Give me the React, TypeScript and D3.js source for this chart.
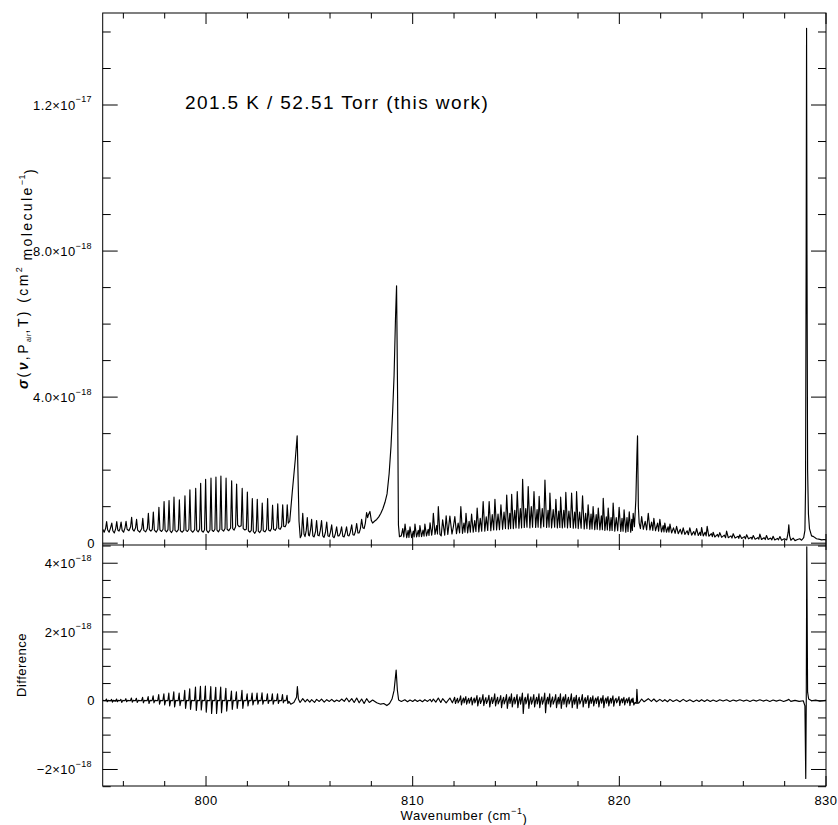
import React from "react";
import * as d3 from "d3";

// plot geometry (px)
const W = 838, H = 825;
const X0 = 102.7, X1 = 826;
const TOP = 13, MID = 545, BOT = 786;

// cross section, 1e-18 cm^2 molecule^-1, [wavenumber, sigma]
const combBand: [number, number][] = [
  [795.00,0.38],[795.07,0.30],[795.14,0.40],[795.19,0.59],[795.24,0.36],[795.31,0.30],[795.38,0.42],[795.44,0.55],
  [795.49,0.34],[795.56,0.28],[795.63,0.40],[795.68,0.59],[795.73,0.36],[795.79,0.33],[795.84,0.41],[795.89,0.58],
  [795.94,0.35],[796.01,0.30],[796.08,0.42],[796.13,0.60],[796.18,0.38],[796.27,0.34],[796.35,0.45],[796.40,0.71],
  [796.45,0.38],[796.52,0.33],[796.59,0.42],[796.64,0.65],[796.69,0.36],[796.79,0.30],[796.89,0.40],[796.94,0.68],
  [796.99,0.35],[797.08,0.31],[797.16,0.40],[797.21,0.82],[797.26,0.37],[797.33,0.33],[797.40,0.38],[797.45,0.85],
  [797.50,0.36],[797.59,0.30],[797.67,0.38],[797.72,0.98],[797.77,0.36],[797.85,0.32],[797.92,0.38],[797.97,1.14],
  [798.02,0.35],[798.09,0.31],[798.16,0.37],[798.21,1.17],[798.26,0.34],[798.33,0.29],[798.40,0.36],[798.45,1.26],
  [798.50,0.35],[798.58,0.31],[798.66,0.37],[798.71,1.19],[798.76,0.34],[798.85,0.30],[798.93,0.36],[798.98,1.30],
  [799.03,0.35],[799.10,0.32],[799.17,0.38],[799.22,1.46],[799.27,0.35],[799.36,0.30],[799.45,0.37],[799.50,1.50],
  [799.55,0.35],[799.62,0.31],[799.69,0.38],[799.74,1.64],[799.79,0.34],[799.86,0.30],[799.93,0.37],[799.98,1.75],
  [800.03,0.35],[800.11,0.29],[800.19,0.36],[800.24,1.78],[800.29,0.36],[800.36,0.32],[800.43,0.38],[800.48,1.81],
  [800.53,0.36],[800.60,0.31],[800.67,0.38],[800.72,1.84],[800.77,0.37],[800.85,0.33],[800.92,0.40],[800.97,1.78],
  [801.02,0.38],[801.10,0.34],[801.19,0.42],[801.24,1.71],[801.29,0.40],[801.36,0.36],[801.43,0.45],[801.48,1.62],
  [801.53,0.50],[801.61,0.45],[801.70,0.48],[801.75,1.50],[801.80,0.40],[801.88,0.36],[801.95,0.38],[802.00,1.40],
  [802.05,0.34],[802.12,0.30],[802.19,0.35],[802.24,1.22],[802.29,0.32],[802.36,0.27],[802.43,0.34],[802.48,1.20],
  [802.53,0.33],[802.60,0.29],[802.67,0.36],[802.72,1.10],[802.77,0.34],[802.85,0.31],[802.93,0.38],[802.98,1.22],
  [803.03,0.36],[803.10,0.33],[803.17,0.40],[803.22,1.04],[803.27,0.38],[803.35,0.35],[803.42,0.42],[803.47,1.08],
  [803.52,0.40],[803.59,0.38],[803.66,0.46],[803.71,1.05],[803.76,0.46],[803.83,0.45],[803.88,0.52],[803.93,1.05],
  [803.98,0.55],[804.05,0.60],[804.17,1.38],[804.32,2.30],[804.41,2.94],[804.50,0.60],[804.56,0.15],
];

const midBand: [number, number][] = [
  [804.62,0.22],[804.68,0.82],[804.74,0.25],[804.79,0.18],[804.85,0.35],[804.90,0.70],[804.96,0.22],[805.00,0.20],
  [805.06,0.38],[805.11,0.65],[805.17,0.20],[805.23,0.17],[805.30,0.32],[805.35,0.62],[805.41,0.22],[805.47,0.20],
  [805.53,0.35],[805.59,0.62],[805.65,0.20],[805.71,0.16],[805.78,0.30],[805.84,0.58],[805.90,0.20],[805.96,0.18],
  [806.02,0.30],[806.08,0.50],[806.14,0.18],[806.20,0.15],[806.26,0.26],[806.32,0.45],[806.38,0.20],[806.44,0.20],
  [806.50,0.28],[806.56,0.45],[806.62,0.19],[806.68,0.17],[806.74,0.28],[806.80,0.45],[806.86,0.21],[806.92,0.20],
  [806.98,0.30],[807.05,0.50],[807.11,0.23],[807.17,0.22],[807.23,0.32],[807.29,0.54],[807.35,0.28],[807.41,0.28],
  [807.47,0.40],[807.53,0.65],[807.59,0.42],[807.65,0.40],[807.71,0.55],[807.77,0.84],[807.82,0.70],[807.86,0.78],
  [807.93,0.87],[808.00,0.62],[808.06,0.55],[808.15,0.60],[808.26,0.65],[808.36,0.72],[808.46,0.82],[808.56,0.95],
  [808.66,1.12],[808.76,1.35],[808.86,1.90],[808.95,2.65],[809.03,3.60],[809.10,4.60],[809.17,6.20],[809.22,7.05],
  [809.27,4.00],
];

const postQBand: [number, number][] = [
  [809.31,0.50],[809.36,0.18],[809.45,0.20],[809.52,0.40],[809.57,0.17],[809.63,0.52],[809.71,0.15],[809.78,0.35],
  [809.82,0.16],[809.87,0.45],[809.95,0.15],[810.03,0.33],[810.07,0.17],[810.11,0.52],[810.19,0.17],[810.27,0.35],
  [810.31,0.18],[810.35,0.48],[810.43,0.18],[810.50,0.36],[810.55,0.19],[810.59,0.52],[810.67,0.20],[810.75,0.38],
  [810.79,0.21],[810.84,0.56],[810.92,0.22],[810.96,0.40],[811.00,0.82],[811.08,0.24],[811.16,0.48],[811.20,0.25],
  [811.24,1.00],[811.32,0.24],
];

const rBand: [number, number][] = [
  [811.38,0.20],[811.45,0.64],[811.55,0.22],[811.62,0.75],[811.70,0.24],[811.80,0.74],[811.90,0.25],[811.97,0.45],
  [812.04,0.73],[812.12,0.26],[812.20,0.55],[812.27,0.28],[812.33,1.00],[812.41,0.27],[812.48,0.55],[812.53,0.30],
  [812.58,0.82],[812.66,0.28],[812.73,0.60],[812.79,0.30],[812.85,0.80],[812.93,0.30],[813.00,0.62],[813.06,0.32],
  [813.12,0.96],[813.20,0.31],[813.27,0.68],[813.34,0.33],[813.41,1.14],[813.49,0.33],[813.56,0.72],[813.63,0.35],
  [813.70,1.14],[813.78,0.34],[813.85,0.78],[813.92,0.36],[813.98,1.20],[814.06,0.36],[814.13,0.80],[814.20,0.37],
  [814.27,1.05],[814.35,0.38],[814.42,0.85],[814.49,0.40],[814.55,1.32],[814.63,0.39],[814.70,0.82],[814.74,0.40],
  [814.79,1.34],[814.87,0.40],[814.94,0.90],[815.00,0.42],[815.06,1.41],[815.14,0.41],[815.21,0.95],[815.27,0.42],
  [815.32,1.75],[815.40,0.43],[815.47,0.95],[815.53,0.44],[815.59,1.55],[815.67,0.42],[815.74,1.00],[815.80,0.44],
  [815.87,1.41],[815.95,0.43],[816.02,0.92],[816.07,0.44],[816.12,1.28],[816.20,0.42],[816.27,0.95],[816.34,0.45],
  [816.40,1.73],[816.48,0.43],[816.55,0.90],[816.60,0.44],[816.64,1.37],[816.72,0.42],[816.80,0.92],[816.87,0.44],
  [816.93,1.20],[817.00,0.42],[817.07,0.88],[817.12,0.43],[817.16,1.26],[817.24,0.42],[817.31,0.90],[817.36,0.44],
  [817.41,1.39],[817.49,0.42],[817.56,0.88],[817.63,0.43],[817.69,1.37],[817.77,0.41],[817.84,0.85],[817.89,0.42],
  [817.93,1.41],[818.01,0.40],[818.08,0.85],[818.15,0.41],[818.22,1.30],[818.30,0.39],[818.37,0.82],[818.43,0.40],
  [818.49,1.05],[818.57,0.38],[818.63,0.80],[818.68,0.39],[818.73,1.00],[818.81,0.37],[818.88,0.78],[818.93,0.38],
  [818.98,0.96],[819.06,0.36],[819.13,0.75],[819.18,0.37],[819.22,1.23],[819.30,0.35],[819.37,0.72],[819.42,0.36],
  [819.46,0.96],[819.54,0.34],[819.60,0.70],[819.65,0.35],[819.70,1.10],[819.78,0.33],[819.85,0.70],[819.92,0.34],
  [819.99,0.98],[820.07,0.32],[820.13,0.68],[820.18,0.33],[820.23,0.91],[820.31,0.30],[820.37,0.70],[820.42,0.32],
  [820.48,0.86],[820.55,0.30],[820.60,0.65],[820.63,0.35],[820.67,0.82],[820.73,0.45],[820.80,1.20],[820.85,2.40],
  [820.88,2.94],[820.92,1.00],[820.96,0.55],
];

const tailBand: [number, number][] = [
  [821.02,0.40],[821.08,0.73],[821.16,0.38],[821.25,0.60],[821.32,0.36],[821.40,0.82],[821.48,0.36],[821.56,0.58],
  [821.62,0.35],[821.67,0.68],[821.75,0.34],[821.85,0.55],[821.90,0.33],[821.96,0.65],[822.04,0.31],[822.12,0.48],
  [822.16,0.31],[822.20,0.55],[822.28,0.30],[822.36,0.45],[822.40,0.30],[822.45,0.52],[822.53,0.28],[822.62,0.42],
  [822.70,0.27],[822.77,0.46],[822.85,0.26],[822.95,0.38],[823.02,0.25],[823.09,0.42],[823.17,0.24],[823.28,0.34],
  [823.34,0.23],[823.41,0.42],[823.50,0.22],[823.60,0.32],[823.66,0.22],[823.74,0.40],[823.82,0.21],[823.90,0.30],
  [823.94,0.21],[823.98,0.43],[824.06,0.20],[824.15,0.30],[824.20,0.20],[824.25,0.46],[824.33,0.19],[824.45,0.26],
  [824.50,0.18],[824.54,0.30],[824.62,0.17],[824.75,0.24],[824.80,0.17],[824.86,0.29],[824.95,0.16],[825.08,0.22],
  [825.14,0.15],[825.19,0.33],[825.27,0.15],[825.40,0.20],[825.45,0.14],[825.51,0.26],[825.60,0.14],[825.75,0.19],
  [825.78,0.13],[825.83,0.23],[825.92,0.13],[826.05,0.18],[826.10,0.12],[826.16,0.23],[826.25,0.12],[826.38,0.16],
  [826.42,0.11],[826.48,0.21],[826.57,0.11],[826.70,0.15],[826.75,0.11],[826.80,0.25],[826.88,0.10],[827.00,0.15],
  [827.06,0.10],[827.12,0.21],[827.20,0.10],[827.32,0.14],[827.38,0.09],[827.44,0.19],[827.52,0.09],[827.65,0.13],
  [827.70,0.09],[827.77,0.18],[827.85,0.08],[827.98,0.12],[828.10,0.09],[828.17,0.30],[828.20,0.50],[828.24,0.20],
  [828.30,0.08],[828.41,0.14],[828.50,0.07],[828.62,0.10],[828.73,0.12],[828.82,0.08],[828.92,0.15],[828.98,0.35],
  [829.01,1.50],[829.04,8.00],[829.06,14.10],[829.08,8.00],[829.11,2.00],[829.15,0.80],[829.20,0.40],[829.30,0.20],
  [829.40,0.18],[829.54,0.12],[829.65,0.11],[829.80,0.09],[829.90,0.10],[830.00,0.09],
];

// difference, 1e-18
const diffComb: [number, number][] = [
  [795.00,0.01],[795.13,0.00],[795.18,0.05],[795.22,-0.03],[795.27,0.01],[795.38,0.00],[795.43,0.04],[795.47,-0.04],
  [795.52,0.01],[795.62,-0.01],[795.67,0.05],[795.71,-0.03],[795.76,0.01],[795.83,0.00],[795.88,0.04],[795.92,-0.05],
  [795.97,0.01],[796.07,0.00],[796.12,0.06],[796.16,-0.03],[796.21,0.01],[796.34,0.00],[796.39,0.08],[796.43,-0.04],
  [796.48,0.01],[796.58,0.00],[796.63,0.07],[796.67,-0.05],[796.72,0.01],[796.88,0.00],[796.93,0.10],[796.97,-0.06],
  [797.02,0.01],[797.15,0.00],[797.20,0.12],[797.24,-0.08],[797.29,0.01],[797.39,0.00],[797.44,0.14],[797.48,-0.06],
  [797.53,0.01],[797.66,0.00],[797.71,0.18],[797.75,-0.10],[797.80,0.01],[797.91,0.00],[797.96,0.20],[798.00,-0.12],
  [798.05,0.01],[798.15,0.00],[798.20,0.22],[798.24,-0.15],[798.29,0.01],[798.39,0.00],[798.44,0.26],[798.48,-0.18],
  [798.53,0.01],[798.65,0.00],[798.70,0.22],[798.74,-0.14],[798.79,0.01],[798.92,0.00],[798.97,0.30],[799.01,-0.22],
  [799.06,0.01],[799.16,0.00],[799.21,0.35],[799.25,-0.25],[799.30,0.01],[799.44,0.00],[799.49,0.40],[799.53,-0.28],
  [799.58,0.01],[799.68,0.00],[799.73,0.42],[799.77,-0.27],[799.82,0.01],[799.92,0.00],[799.97,0.43],[800.01,-0.33],
  [800.06,0.01],[800.18,0.00],[800.23,0.41],[800.27,-0.37],[800.32,0.01],[800.42,0.00],[800.47,0.39],[800.51,-0.37],
  [800.56,0.01],[800.66,0.00],[800.71,0.40],[800.75,-0.35],[800.80,0.01],[800.91,0.00],[800.96,0.36],[801.00,-0.30],
  [801.05,0.01],[801.18,0.00],[801.23,0.28],[801.27,-0.25],[801.32,0.01],[801.42,0.00],[801.47,0.26],[801.51,-0.22],
  [801.56,0.01],[801.69,0.00],[801.74,0.30],[801.78,-0.22],[801.83,0.01],[801.94,0.00],[801.99,0.20],[802.03,-0.15],
  [802.08,0.01],[802.18,0.00],[802.23,0.22],[802.27,-0.12],[802.32,0.01],[802.42,0.00],[802.47,0.22],[802.51,-0.10],
  [802.56,0.01],[802.66,0.00],[802.71,0.23],[802.75,-0.10],[802.80,0.01],[802.92,0.00],[802.97,0.20],[803.01,-0.08],
  [803.06,0.01],[803.16,0.00],[803.21,0.20],[803.25,-0.10],[803.30,0.01],[803.41,0.00],[803.46,0.20],[803.50,-0.08],
  [803.55,0.01],[803.65,0.00],[803.70,0.18],[803.74,-0.06],[803.79,0.01],[803.87,0.00],[803.92,0.16],[803.96,-0.08],
  [804.01,-0.02],[804.10,-0.10],[804.25,-0.05],[804.38,0.10],[804.42,0.41],[804.47,0.05],[804.55,-0.05],
];

const diffMid: [number, number][] = [
  [804.68,0.06],[804.80,-0.03],[804.90,0.04],[805.02,-0.04],[805.11,0.03],[805.25,-0.05],[805.35,0.04],[805.48,-0.02],
  [805.59,0.05],[805.72,-0.04],[805.84,0.03],[805.97,-0.02],[806.08,0.04],[806.21,-0.03],[806.32,0.02],[806.45,-0.02],
  [806.56,0.05],[806.69,-0.02],[806.80,0.08],[806.92,-0.03],[807.05,0.06],[807.17,-0.05],[807.29,0.08],[807.41,-0.06],
  [807.53,0.05],[807.65,-0.08],[807.77,0.06],[807.90,-0.05],[808.06,0.02],[808.26,-0.06],[808.45,-0.10],[808.60,-0.08],
  [808.75,-0.14],[808.88,-0.08],[809.00,0.05],[809.10,0.30],[809.20,0.89],[809.26,0.30],[809.32,0.02],[809.45,-0.02],
  [809.62,0.03],[809.75,-0.03],[809.87,0.02],[810.00,-0.02],[810.11,0.03],[810.23,-0.02],[810.35,0.02],[810.47,-0.03],
  [810.59,0.03],[810.72,-0.02],[810.84,0.04],[810.92,-0.03],[811.00,0.05],[811.12,-0.04],[811.24,0.08],[811.36,-0.05],
  [811.45,0.06],[811.62,-0.06],[811.80,0.08],[811.92,-0.06],
];

const diffR: [number, number][] = [
  [811.98,0.02],[812.03,0.10],[812.07,-0.08],[812.12,0.01],[812.17,0.07],[812.20,-0.06],
  [812.27,0.02],[812.32,0.14],[812.36,-0.12],[812.41,0.01],[812.46,0.08],[812.49,-0.06],
  [812.52,0.02],[812.57,0.12],[812.61,-0.10],[812.66,0.01],[812.71,0.07],[812.74,-0.07],
  [812.79,0.02],[812.84,0.10],[812.88,-0.12],[812.93,0.01],[812.98,0.08],[813.01,-0.06],
  [813.06,0.02],[813.11,0.15],[813.15,-0.15],[813.20,0.01],[813.25,0.09],[813.28,-0.08],
  [813.35,0.02],[813.40,0.18],[813.44,-0.14],[813.49,0.01],[813.54,0.09],[813.57,-0.08],
  [813.64,0.02],[813.69,0.16],[813.73,-0.18],[813.78,0.01],[813.83,0.10],[813.86,-0.08],
  [813.92,0.02],[813.97,0.20],[814.01,-0.15],[814.06,0.01],[814.11,0.10],[814.14,-0.09],
  [814.21,0.02],[814.26,0.15],[814.30,-0.20],[814.35,0.01],[814.40,0.10],[814.43,-0.09],
  [814.49,0.02],[814.54,0.18],[814.58,-0.22],[814.63,0.01],[814.68,0.11],[814.71,-0.08],
  [814.74,0.02],[814.78,0.20],[814.82,-0.18],[814.87,0.01],[814.92,0.10],[814.95,-0.09],
  [815.00,0.02],[815.05,0.18],[815.09,-0.20],[815.14,0.01],[815.19,0.11],[815.22,-0.10],
  [815.26,0.02],[815.31,0.22],[815.35,-0.37],[815.40,0.01],[815.45,0.10],[815.48,-0.09],
  [815.53,0.02],[815.58,0.20],[815.62,-0.22],[815.67,0.01],[815.72,0.11],[815.75,-0.10],
  [815.81,0.02],[815.86,0.18],[815.90,-0.18],[815.95,0.01],[816.00,0.10],[816.03,-0.09],
  [816.07,0.02],[816.11,0.20],[816.15,-0.20],[816.20,0.01],[816.25,0.11],[816.28,-0.10],
  [816.34,0.02],[816.39,0.22],[816.43,-0.35],[816.48,0.01],[816.53,0.10],[816.56,-0.09],
  [816.59,0.02],[816.63,0.20],[816.67,-0.18],[816.72,0.01],[816.77,0.11],[816.80,-0.10],
  [816.87,0.02],[816.92,0.18],[816.96,-0.20],[817.01,0.01],[817.05,0.10],[817.08,-0.09],
  [817.11,0.02],[817.15,0.20],[817.19,-0.22],[817.24,0.01],[817.29,0.11],[817.32,-0.10],
  [817.35,0.02],[817.40,0.18],[817.44,-0.18],[817.49,0.01],[817.54,0.10],[817.57,-0.09],
  [817.63,0.02],[817.68,0.20],[817.72,-0.20],[817.77,0.01],[817.81,0.10],[817.84,-0.10],
  [817.88,0.02],[817.92,0.16],[817.96,-0.22],[818.01,0.01],[818.06,0.10],[818.09,-0.09],
  [818.16,0.02],[818.21,0.18],[818.25,-0.18],[818.30,0.01],[818.35,0.09],[818.38,-0.08],
  [818.43,0.02],[818.48,0.15],[818.52,-0.20],[818.57,0.01],[818.61,0.09],[818.64,-0.08],
  [818.68,0.02],[818.72,0.14],[818.76,-0.15],[818.81,0.01],[818.86,0.08],[818.89,-0.08],
  [818.92,0.02],[818.97,0.12],[819.01,-0.18],[819.06,0.01],[819.11,0.08],[819.14,-0.07],
  [819.17,0.02],[819.21,0.15],[819.25,-0.20],[819.30,0.01],[819.35,0.08],[819.38,-0.07],
  [819.41,0.02],[819.45,0.12],[819.49,-0.15],[819.54,0.01],[819.58,0.07],[819.61,-0.07],
  [819.64,0.02],[819.69,0.14],[819.73,-0.16],[819.78,0.01],[819.84,0.07],[819.87,-0.06],
  [819.93,0.02],[819.98,0.12],[820.02,-0.14],[820.07,0.01],[820.12,0.06],[820.15,-0.06],
  [820.18,0.02],[820.22,0.10],[820.26,-0.12],[820.31,0.01],[820.36,0.06],[820.39,-0.06],
  [820.43,0.02],[820.47,0.10],[820.51,-0.14],[820.56,0.01],[820.60,0.05],[820.62,-0.05],
  [820.64,0.02],[820.66,0.08],[820.70,-0.12],[820.76,-0.05],[820.82,-0.08],[820.85,0.33],[820.89,-0.08],
];

const diffTail: [number, number][] = [
  [820.95,-0.06],[821.08,0.05],[821.20,-0.03],[821.40,0.06],[821.55,-0.02],[821.67,0.05],[821.80,-0.03],[821.96,0.04],
  [822.10,-0.02],[822.20,0.03],[822.33,-0.03],[822.45,0.04],[822.60,-0.02],[822.77,0.03],[822.93,-0.03],[823.09,0.04],
  [823.25,-0.02],[823.41,0.03],[823.58,-0.03],[823.74,0.02],[823.86,-0.02],[823.98,0.03],[824.12,-0.02],[824.25,0.03],
  [824.40,-0.02],[824.54,0.02],[824.70,-0.02],[824.86,0.03],[825.02,-0.01],[825.19,0.03],[825.35,-0.02],[825.51,0.02],
  [825.67,-0.01],[825.83,0.03],[826.00,-0.01],[826.16,0.02],[826.32,-0.02],[826.48,0.02],[826.64,-0.01],[826.80,0.03],
  [826.96,-0.01],[827.12,0.02],[827.28,-0.02],[827.44,0.02],[827.60,-0.01],[827.77,0.02],[827.95,-0.02],[828.10,0.01],
  [828.20,0.04],[828.30,-0.02],[828.50,0.01],[828.70,-0.02],[828.90,0.00],[828.98,-0.15],[829.02,-2.26],[829.045,0.00],
  [829.07,4.48],[829.11,0.25],[829.16,0.05],[829.30,0.00],[829.50,0.02],[829.70,-0.01],[830.00,0.01],
];

// ticks
const xMajor = [800, 810, 820, 830];
const xMajorLabels = ["800", "810", "820", "830"];
const xMinor = [796, 798, 802, 804, 806, 808, 812, 814, 816, 818, 822, 824, 826, 828];
const sigmaMajor = [0, 4, 8, 12];
const sigmaLabels: [string, string][] = [["0", ""], ["4.0×10", "−18"], ["8.0×10", "−18"], ["1.2×10", "−17"]];
const sigmaMinor = [1, 2, 3, 5, 6, 7, 9, 10, 11, 13, 14];
const diffMajor = [-2, 0, 2, 4];
const diffLabels: [string, string][] = [["−2×10", "−18"], ["0", ""], ["2×10", "−18"], ["4×10", "−18"]];
const diffMinor = [-2.5, -1.5, -1, -0.5, 0.5, 1, 1.5, 2.5, 3, 3.5, 4.5];

const title = "201.5 K / 52.51 Torr (this work)";
const FONT = "'Liberation Sans', Arial, sans-serif";

const x = d3.scaleLinear().domain([795, 830]).range([X0, X1]);
const yTop = d3.scaleLinear().domain([-0.05, 14.52]).range([MID, TOP]);
const yBot = d3.scaleLinear().domain([-2.48, 4.53]).range([BOT, MID]);

const TickLabel = ({ y, lab }: { y: number; lab: [string, string] }) => (
  <text x={lab[1] ? 92 : 95} y={y} dy="0.36em" textAnchor="end" fontSize={13} fontFamily={FONT} letterSpacing={0.4}>
    {lab[0]}
    {lab[1] && <tspan fontSize={9} dy="-0.8em">{lab[1]}</tspan>}
  </text>
);

export default function App() {
  const topSpec = [...combBand, ...midBand, ...postQBand, ...rBand, ...tailBand];
  const diffSpec = [...diffComb, ...diffMid, ...diffR, ...diffTail];
  const lineTop = d3.line<[number, number]>().x((d) => x(d[0])).y((d) => yTop(d[1]));
  const lineBot = d3.line<[number, number]>().x((d) => x(d[0])).y((d) => yBot(d[1]));

  const vTicks = (vals: number[], scale: (v: number) => number, len: number, key: string) =>
    vals.map((v) => (
      <g key={key + v}>
        <line x1={X0} x2={X0 + len} y1={scale(v)} y2={scale(v)} />
        <line x1={X1} x2={X1 - len} y1={scale(v)} y2={scale(v)} />
      </g>
    ));
  const hTicks = (y: number, dir: number, vals: number[], len: number, key: string) =>
    vals.map((v) => <line key={key + v} x1={x(v)} x2={x(v)} y1={y} y2={y + dir * len} />);

  return (
    <svg width={W} height={H} style={{ position: "absolute", left: 0, top: 0, background: "#fff" }}>
      <defs>
        <clipPath id="clipTop"><rect x={X0} y={TOP} width={X1 - X0} height={MID - TOP} /></clipPath>
        <clipPath id="clipBot"><rect x={X0} y={MID} width={X1 - X0} height={BOT - MID} /></clipPath>
      </defs>
      <rect width={W} height={H} fill="#fff" />

      <path d={lineTop(topSpec) ?? ""} fill="none" stroke="#000" strokeWidth={1.15} strokeLinejoin="round" clipPath="url(#clipTop)" />
      <path d={lineBot(diffSpec) ?? ""} fill="none" stroke="#000" strokeWidth={1.15} strokeLinejoin="round" clipPath="url(#clipBot)" />

      <g stroke="#000" strokeWidth={1} fill="none">
        <rect x={X0} y={TOP} width={X1 - X0} height={BOT - TOP} />
        <line x1={X0} x2={X1} y1={MID} y2={MID} />
        {vTicks(sigmaMajor, yTop, 15, "sa")}
        {vTicks(sigmaMinor, yTop, 8, "sb")}
        {vTicks(diffMajor, yBot, 15, "da")}
        {vTicks(diffMinor, yBot, 8, "db")}
        {hTicks(TOP, 1, xMajor, 11, "ta")}
        {hTicks(TOP, 1, xMinor, 5.5, "tb")}
        {hTicks(MID, -1, xMajor, 11, "ma")}
        {hTicks(MID, -1, xMinor, 5.5, "mb")}
        {hTicks(MID, 1, xMajor, 5, "na")}
        {hTicks(MID, 1, xMinor, 2.5, "nb")}
        {hTicks(BOT, -1, xMajor, 10, "ba")}
        {hTicks(BOT, -1, xMinor, 5, "bb")}
      </g>

      {sigmaMajor.map((v, i) => <TickLabel key={"s" + v} y={yTop(v)} lab={sigmaLabels[i]} />)}
      {diffMajor.map((v, i) => <TickLabel key={"d" + v} y={yBot(v)} lab={diffLabels[i]} />)}

      {xMajor.map((v, i) => (
        <text key={"xl" + v} x={x(v)} y={805} textAnchor="middle" fontSize={13} fontFamily={FONT} letterSpacing={0.5}>
          {xMajorLabels[i]}
        </text>
      ))}
      <text x={464} y={820} textAnchor="middle" fontSize={13} fontFamily={FONT} letterSpacing={0.6}>
        Wavenumber (cm<tspan fontSize={9} dy="-0.7em">−1</tspan><tspan dy="0.7em">)</tspan>
      </text>

      <text transform="translate(28,278) rotate(-90)" textAnchor="middle" fontSize={14} fontFamily={FONT} letterSpacing={2.4}>
        <tspan fontWeight="bold" fontStyle="italic">σ</tspan>(<tspan fontWeight="bold" fontStyle="italic">ν</tspan>,P
        <tspan fontSize={7} letterSpacing={0.3} dy="3">air</tspan>
        <tspan dy="-3">,T) (cm</tspan>
        <tspan fontSize={9} letterSpacing={0.5} dy="-0.7em">2</tspan>
        <tspan dy="0.7em"> molecule</tspan>
        <tspan fontSize={9} letterSpacing={0.5} dy="-0.7em">−1</tspan>
        <tspan dy="0.7em">)</tspan>
      </text>
      <text transform="translate(26,665) rotate(-90)" textAnchor="middle" fontSize={13} fontFamily={FONT} letterSpacing={0.5}>
        Difference
      </text>

      <text x={185} y={109} fontSize={19} fontFamily={FONT} letterSpacing={1.4}>
        {title}
      </text>
    </svg>
  );
}
